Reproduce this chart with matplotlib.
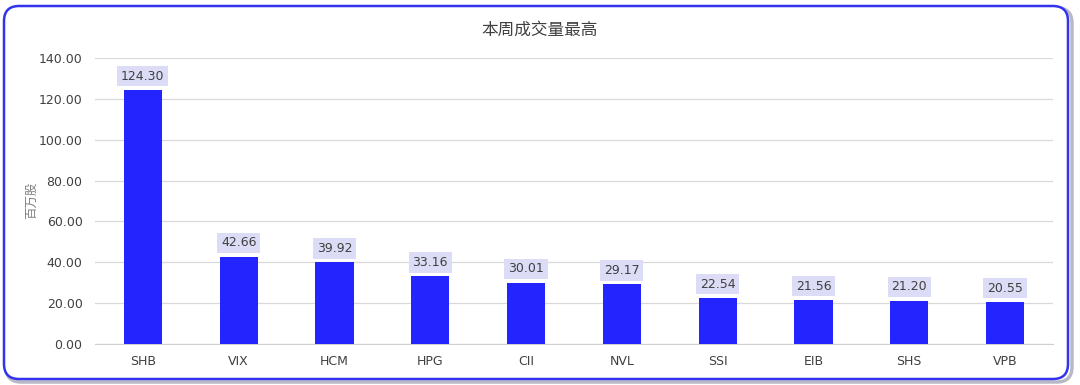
import matplotlib
matplotlib.use("Agg")
import matplotlib.pyplot as plt
from matplotlib.patches import FancyBboxPatch

plt.rcParams['font.family'] = ['DejaVu Sans', 'Noto Sans CJK SC']

categories = ["SHB", "VIX", "HCM", "HPG", "CII", "NVL", "SSI", "EIB", "SHS", "VPB"]
values = [124.30, 42.66, 39.92, 33.16, 30.01, 29.17, 22.54, 21.56, 21.20, 20.55]
yticks = [0, 20, 40, 60, 80, 100, 120, 140]
title = "本周成交量最高"
ylabel = "百万股"

fig = plt.figure(figsize=(10.8, 3.85), dpi=100)
fig.patch.set_facecolor("white")

# shadow + rounded border
W, H = 1080, 385
asp = W / H
shadow = FancyBboxPatch((6 / W, 3 / H), 1066 / W, 374 / H,
                        boxstyle="round,pad=0,rounding_size=0.014", mutation_aspect=asp,
                        transform=fig.transFigure, facecolor="none",
                        edgecolor="#8a8aa0", linewidth=2.5, alpha=0.6, zorder=-2)
fig.patches.append(shadow)
border = FancyBboxPatch((4 / W, 6 / H), 1064 / W, 373 / H,
                        boxstyle="round,pad=0,rounding_size=0.014", mutation_aspect=asp,
                        transform=fig.transFigure, facecolor="white",
                        edgecolor="#3333ee", linewidth=1.8, zorder=-1)
fig.patches.append(border)

ax = fig.add_axes([95 / W, 1 - 344 / H, (1053 - 95) / W, (344 - 58) / H])
ax.set_facecolor("none")
x = range(len(categories))
ax.bar(x, values, width=0.4, color="#2424ff", zorder=3)
ax.set_xlim(-0.5, len(categories) - 0.5)
ax.set_ylim(0, 140)
ax.set_yticks(yticks)
ax.set_yticklabels([f"{v:.2f}" for v in yticks], fontsize=9, color="#404040")
ax.set_xticks(list(x))
ax.set_xticklabels(categories, fontsize=9, color="#404040")
ax.tick_params(axis='both', length=0, pad=9)
ax.tick_params(axis='x', pad=8)
ax.grid(axis='y', color="#d9d9d9", linewidth=0.9, zorder=0)
for s in ["top", "right", "left"]:
    ax.spines[s].set_visible(False)
ax.spines["bottom"].set_color("#d0d0d0")
ax.spines["bottom"].set_zorder(2)

for xi, v in zip(x, values):
    ax.annotate(f"{v:.2f}", (xi, v), xytext=(0, 10), textcoords="offset points",
                ha="center", va="center", fontsize=9, color="#404040", zorder=4,
                bbox=dict(boxstyle="square,pad=0.3", facecolor="#dcdcf7", edgecolor="none"))

fig.text(540 / W, 1 - 30 / H, title, ha="center", va="center", fontsize=12,
         color="#404040", family=['Noto Sans CJK SC'])
fig.text(32 / W, 1 - 200 / H, ylabel, ha="center", va="center", rotation=90,
         fontsize=9, color="#808080", family=['Noto Sans CJK SC'])

fig.savefig("out.png", dpi=100)
